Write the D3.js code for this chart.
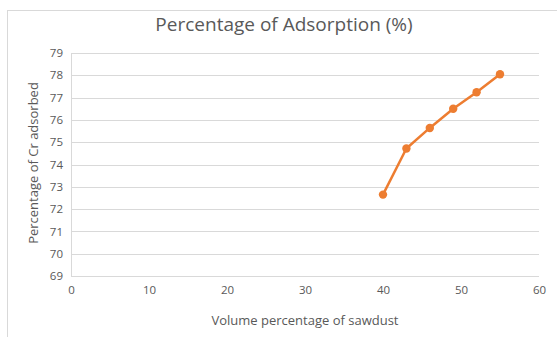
<!DOCTYPE html>
<html>
<head>
<meta charset="utf-8">
<script src="https://cdn.jsdelivr.net/npm/d3@7"></script>
<style>
html,body{margin:0;padding:0;background:#fff;}
svg{display:block;}
text{font-family:"Open Sans","Noto Sans",sans-serif;}
</style>
</head>
<body>
<svg id="chart" width="557" height="337"></svg>
<script>
const xValues = [40, 43, 46, 49, 52, 55];
const yValues = [72.65, 74.72, 75.64, 76.5, 77.24, 78.05];
const xTicks = [0, 10, 20, 30, 40, 50, 60];
const yTicks = [69, 70, 71, 72, 73, 74, 75, 76, 77, 78, 79];
const title = "Percentage of Adsorption (%)";
const xTitle = "Volume percentage of sawdust";
const yTitle = "Percentage of Cr adsorbed";

const svg = d3.select("#chart");
const W = 557, H = 337;
const L = 71, R = 539, T = 53, B = 276;

svg.append("rect").attr("x", 7.5).attr("y", 10.5).attr("width", W + 10).attr("height", H + 10)
  .attr("fill", "#fff").attr("stroke", "#d9d9d9").attr("stroke-width", 1);

const x = d3.scaleLinear().domain([0, 60]).range([L, R]);
const y = d3.scaleLinear().domain([69, 79]).range([B, T]);

// gridlines
svg.append("g").selectAll("line").data(yTicks).join("line")
  .attr("x1", L).attr("x2", R)
  .attr("y1", d => Math.round(y(d)) + 0.5).attr("y2", d => Math.round(y(d)) + 0.5)
  .attr("stroke", "#d9d9d9").attr("stroke-width", 1);

// left axis line
svg.append("line").attr("x1", L + 0.5).attr("x2", L + 0.5).attr("y1", T).attr("y2", B + 0.5)
  .attr("stroke", "#d9d9d9");

// y tick labels
const yAxis = d3.axisLeft(y).tickValues(yTicks).tickSize(0).tickPadding(8).tickFormat(d3.format("d"));
const gy = svg.append("g").attr("transform", `translate(${L},0)`).call(yAxis);
gy.select(".domain").remove();
gy.selectAll("text").attr("fill", "#595959").style("font-size", "11.5px")
  .style("font-family", '"Open Sans","Noto Sans",sans-serif');

// x tick labels
const xAxis = d3.axisBottom(x).tickValues(xTicks).tickSize(0).tickPadding(10).tickFormat(d3.format("d"));
const gx = svg.append("g").attr("transform", `translate(0,${B})`).call(xAxis);
gx.select(".domain").remove();
gx.selectAll("text").attr("fill", "#595959").style("font-size", "11.5px")
  .style("font-family", '"Open Sans","Noto Sans",sans-serif');

// line
const line = d3.line().x((d, i) => x(xValues[i])).y(d => y(d));
svg.append("path").datum(yValues).attr("d", line)
  .attr("fill", "none").attr("stroke", "#ED7D31").attr("stroke-width", 2.5)
  .attr("stroke-linejoin", "round");
svg.append("g").selectAll("circle").data(yValues).join("circle")
  .attr("cx", (d, i) => x(xValues[i])).attr("cy", d => y(d)).attr("r", 4.2)
  .attr("fill", "#ED7D31");

// titles
svg.append("text").attr("x", 284).attr("y", 31).attr("text-anchor", "middle")
  .attr("fill", "#595959").style("font-size", "19px").text(title);
svg.append("text").attr("x", 305).attr("y", 325).attr("text-anchor", "middle")
  .attr("fill", "#595959").style("font-size", "13px").text(xTitle);
svg.append("text").attr("transform", "translate(38,163) rotate(-90)").attr("text-anchor", "middle")
  .attr("fill", "#595959").style("font-size", "13px").text(yTitle);
</script>
</body>
</html>
